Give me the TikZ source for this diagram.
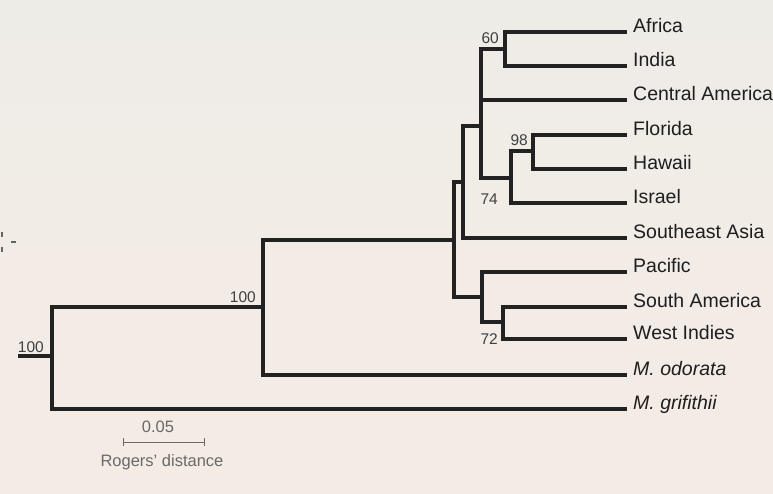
\documentclass[tikz,border=0pt]{standalone}
\usepackage{fontspec}
\setmainfont{Liberation Sans}
\usepackage{tikz}
\usetikzlibrary{calc,positioning,arrows.meta}
\definecolor{treeline}{RGB}{34,34,34}
\definecolor{leaftext}{RGB}{30,30,30}
\definecolor{scalegray}{RGB}{105,105,105}
\definecolor{paperTop}{RGB}{238,236,231}
\definecolor{paperBot}{RGB}{245,235,229}

\begin{document}
\begin{tikzpicture}[x=1pt, y=-1pt,
		branch/.style={draw=treeline, line width=3.3pt},
		leaf/.style={anchor=base west, inner xsep=6pt, inner ysep=0pt, text=leaftext, font=\fontsize{19.5}{22}\selectfont},
		boot/.style={anchor=base east, inner sep=0pt, text=leaftext!85, font=\fontsize{15.5}{17}\selectfont},
		scaletext/.style={anchor=base, inner sep=0pt, text=scalegray, font=\fontsize{16.5}{19}\selectfont},
		scalebar/.style={draw=scalegray, line width=1pt, {Bar[width=8pt]}-{Bar[width=8pt]}}]
				\fill[top color=paperTop, bottom color=paperBot] (0,0) rectangle (773,493);
				\useasboundingbox (0,0) rectangle (773,493);
				\draw[treeline!70, line width=1.2pt] (2,232) -- (2,237) (2,247) -- (2,252) (11,242) -- (16,242);
				
				\node[leaf] (africa) at (627,32) {Africa};
				\node[leaf] (india) at (627,66) {India};
				\node[leaf] (camerica) at (627,100) {Central America};
				\node[leaf] (florida) at (627,135) {Florida};
				\node[leaf] (hawaii) at (627,169) {Hawaii};
				\node[leaf] (israel) at (627,203) {Israel};
				\node[leaf] (seasia) at (627,238) {Southeast Asia};
				\node[leaf] (pacific) at (627,272) {Pacific};
				\node[leaf] (samerica) at (627,307) {South America};
				\node[leaf] (windies) at (627,339) {West Indies};
				\node[leaf] (odorata) at (627,375) {\itshape M. odorata};
				\node[leaf] (grifithii) at (627,409) {\itshape M. grifithii};
				
				\coordinate (rootstub) at (18,356);
				\coordinate (root) at (52,356);
				\coordinate (n100) at (263,307);
				\coordinate (nA) at (454,240);
				\coordinate (nB) at (463,182);
				\coordinate (nC) at (481,126);
				\coordinate (n60) at (505,49);
				\coordinate (n74) at (511,178);
				\coordinate (n98) at (533,151);
				\coordinate (nD) at (482,297);
				\coordinate (n72) at (503,322);
				
				\draw[branch] (rootstub) -- (root);
				\draw[branch] (n100) -| (root) |- (grifithii.base west);
				\draw[branch] (nA) -| (n100) |- (odorata.base west);
				\draw[branch] (nB) -| (nA) |- (nD);
				\draw[branch] (nC) -| (nB) |- (seasia.base west);
				\draw[branch] (n60) -| (nC) |- (n74);
				\draw[branch] (nC |- camerica.base west) -- (camerica.base west);
				\draw[branch] (africa.base west) -| (n60) |- (india.base west);
				\draw[branch] (n98) -| (n74) |- (israel.base west);
				\draw[branch] (florida.base west) -| (n98) |- (hawaii.base west);
				\draw[branch] (pacific.base west) -| (nD) |- (n72);
				\draw[branch] (samerica.base west) -| (n72) |- (windies.base west);
				
				\node[boot] (b60) at (499,43) {60};
				\node[boot] (b98) at (528,145) {98};
				\node[boot] (b74) at (498,204) {74};
				\node[boot] (b72) at (498,344) {72};
				\node[boot] (b100a) at (256,302) {100};
				\node[boot] (b100b) at (44,352) {100};
				
				\coordinate (sbl) at (123,442);
				\coordinate (sbr) at (205,442);
				\draw[scalebar] (sbl) -- (sbr);
				\node[scaletext] (sbvalue) at (158,432) {0.05};
				\node[scaletext] (sbname) at (162,466) {Rogers' distance};
\end{tikzpicture}
\end{document}
